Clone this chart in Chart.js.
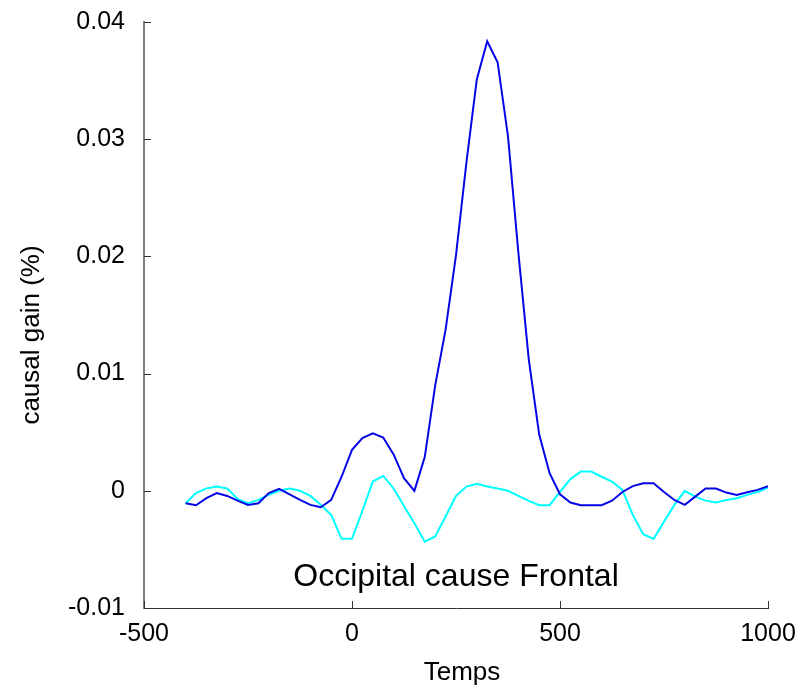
<!DOCTYPE html>
<html>
<head>
<meta charset="utf-8">
<script src="https://cdn.jsdelivr.net/npm/chart.js@4.4.1/dist/chart.umd.min.js"></script>
<style>
  html, body { margin: 0; padding: 0; background: #ffffff; }
  #chartBox { width: 796px; height: 688px; }
</style>
</head>
<body>
<div id="chartBox"><canvas id="chartCanvas"></canvas></div>
<script>
// time axis (ms)
const times = [
  -400, -375, -350, -325, -300, -275, -250, -225, -200, -175,
  -150, -125, -100, -75, -50, -25, 0, 25, 50, 75,
  100, 125, 150, 175, 200, 225, 250, 275, 300, 325,
  350, 375, 400, 425, 450, 475, 500, 525, 550, 575,
  600, 625, 650, 675, 700, 725, 750, 775, 800, 825,
  850, 875, 900, 925, 950, 975, 1000
];

// dark blue curve
const gainBlue = [
  -0.00106, -0.00123, -0.00063, -0.0002, -0.00044, -0.00084, -0.0012, -0.00106, -0.0002, 0.00016,
  -0.0003, -0.00078, -0.0012, -0.0014, -0.00078, 0.0012, 0.0035, 0.0045, 0.0049, 0.00455,
  0.0031, 0.00108, 0.0, 0.0029, 0.009, 0.01375, 0.0201, 0.028, 0.0351, 0.03836,
  0.03657, 0.03025, 0.0203, 0.0112, 0.0048, 0.0015, -0.0003, -0.001, -0.00123, -0.00123,
  -0.00123, -0.00084, -0.0001, 0.0004, 0.00065, 0.00065, -0.0001, -0.00078, -0.0012, -0.0005,
  0.0002, 0.0002, -0.00015, -0.00035, -0.00012, 0.00008, 0.0004
];

// cyan curve
const gainCyan = [
  -0.00106, -0.0002, 0.0002, 0.00036, 0.0002, -0.0007, -0.00106, -0.00078, -0.00035, 0.0,
  0.0002, 0.0, -0.00044, -0.0012, -0.00206, -0.0041, -0.0041, -0.0017, 0.00079, 0.00127,
  0.0002, -0.0013, -0.00277, -0.00434, -0.0039, -0.0022, -0.00044, 0.00036, 0.0006, 0.00036,
  0.0002, 0.0, -0.00044, -0.00086, -0.00123, -0.00123, -0.0001, 0.001, 0.00164, 0.00164,
  0.0012, 0.00079, 0.00008, -0.00206, -0.0037, -0.0041, -0.00263, -0.0012, 0.0, -0.0005,
  -0.00084, -0.001, -0.00078, -0.00063, -0.00035, -0.0001, 0.00027
];

const xTicks = [-500, 0, 500, 1000];
const yTicks = [-0.01, 0, 0.01, 0.02, 0.03, 0.04];

const chartTitle = "Occipital cause Frontal";
const xLabel = "Temps";
const yLabel = "causal gain (%)";

const FONT = "'Liberation Sans', Arial, sans-serif";

function toPoints(xs, ys)
{
  let pts = [];
  for(let i = 0; i < xs.length; i++)
  {
    pts.push({x: xs[i], y: ys[i]});
  }
  return pts;
}

// inward tick marks, axis labels and the title inside the plot
const decorPlugin = {
  id: 'decor',
  afterDraw(chart)
  {
    const ctx = chart.ctx;
    const area = chart.chartArea;
    const xs = chart.scales.x;
    const ys = chart.scales.y;

    ctx.save();
    ctx.strokeStyle = '#333333';
    ctx.lineWidth = 1;
    ctx.beginPath();
    for(let i = 0; i < yTicks.length; i++)
    {
      let py = Math.round(ys.getPixelForValue(yTicks[i])) + 0.5;
      ctx.moveTo(area.left, py);
      ctx.lineTo(area.left + 7, py);
    }
    for(let i = 0; i < xTicks.length; i++)
    {
      let px = Math.round(xs.getPixelForValue(xTicks[i])) + 0.5;
      ctx.moveTo(px, area.bottom);
      ctx.lineTo(px, area.bottom - 7);
    }
    ctx.stroke();

    ctx.fillStyle = '#000000';
    ctx.textAlign = 'center';
    ctx.textBaseline = 'alphabetic';

    ctx.font = "32px " + FONT;
    ctx.fillText(chartTitle, (area.left + area.right) / 2, 586);

    ctx.font = "26px " + FONT;
    ctx.fillText(xLabel, (area.left + area.right) / 2 + 6, 680);

    ctx.translate(39, (area.top + area.bottom) / 2 + 20);
    ctx.rotate(-Math.PI / 2);
    ctx.fillText(yLabel, 0, 0);
    ctx.restore();
  }
};

const data = {
  datasets: [
    {
      label: 'blue',
      data: toPoints(times, gainBlue),
      borderColor: '#0505e6',
      borderWidth: 2,
      pointRadius: 0,
      tension: 0
    },
    {
      label: 'cyan',
      data: toPoints(times, gainCyan),
      borderColor: '#00ffff',
      borderWidth: 2,
      pointRadius: 0,
      tension: 0
    }
  ]
};

const options = {
  responsive: true,
  maintainAspectRatio: false,
  animation: false,
  layout: { padding: { left: 0, right: 28, top: 22, bottom: 0 } },
  plugins: {
    legend: { display: false },
    tooltip: { enabled: false }
  },
  scales: {
    x: {
      type: 'linear',
      min: -500,
      max: 1000,
      afterBuildTicks: (scale) => { scale.ticks = xTicks.map(v => ({value: v})); },
      afterFit: (scale) => {
        scale.height = 80;
        scale.paddingLeft = 0;
        scale.paddingRight = 0;
      },
      grid: { display: false, drawTicks: false },
      border: { display: true, color: '#333333', width: 1 },
      ticks: {
        color: '#000000',
        font: { family: FONT, size: 25 },
        padding: 11,
        maxRotation: 0,
        callback: (v) => String(v)
      },
      title: { display: false }
    },
    y: {
      type: 'linear',
      min: -0.01,
      max: 0.04,
      afterBuildTicks: (scale) => { scale.ticks = yTicks.map(v => ({value: v})); },
      afterFit: (scale) => {
        scale.width = 144;
        scale.paddingTop = 0;
        scale.paddingBottom = 0;
      },
      grid: { display: false, drawTicks: false },
      border: { display: true, color: '#808080', width: 2 },
      ticks: {
        color: '#000000',
        font: { family: FONT, size: 25 },
        padding: 19,
        callback: (v) => String(Number(v.toFixed(2)))
      },
      title: { display: false }
    }
  }
};

const chart = new Chart(document.getElementById("chartCanvas"), {
  type: 'line',
  data: data,
  options: options,
  plugins: [decorPlugin]
});
</script>
</body>
</html>
